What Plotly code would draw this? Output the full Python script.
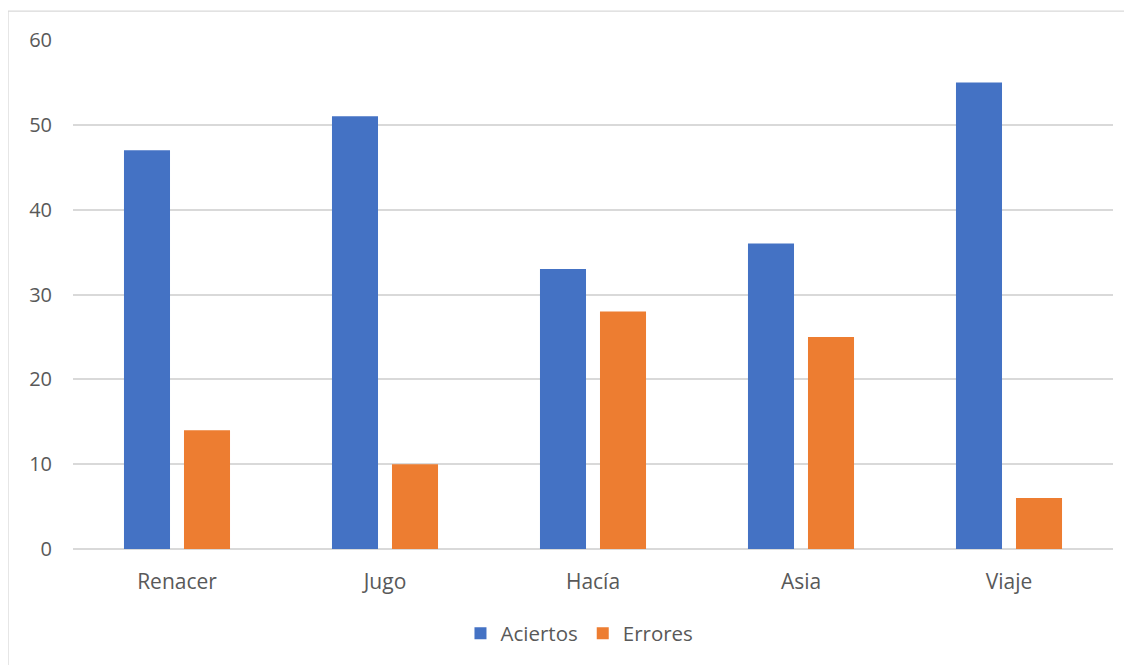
import plotly.graph_objects as go

categories = ["Renacer", "Jugo", "Hacía", "Asia", "Viaje"]
aciertos = [47, 51, 33, 36, 55]
errores = [14, 10, 28, 25, 6]
y_ticks = [0, 10, 20, 30, 40, 50, 60]

FONT = "Open Sans"
TXT = "#595959"

fig = go.Figure()
fig.add_trace(go.Bar(name="Aciertos", x=categories, y=aciertos, marker=dict(color="#4472C4", line=dict(width=0))))
fig.add_trace(go.Bar(name="Errores", x=categories, y=errores, marker=dict(color="#ED7D31", line=dict(width=0))))

fig.update_layout(
    width=1132, height=665,
    margin=dict(l=65, r=27, t=32, b=123.5),
    paper_bgcolor="white", plot_bgcolor="white",
    barmode="group", bargap=0.423, bargroupgap=0.233,
    font=dict(family=FONT, size=21, color=TXT),
    showlegend=True,
    legend=dict(orientation="h", x=0.487, xanchor="center", y=-0.166, yanchor="middle",
                font=dict(family=FONT, size=20.5, color=TXT), itemwidth=30, traceorder="normal"),
    xaxis=dict(showgrid=False, showline=False, ticks="", zeroline=False,
               tickfont=dict(family=FONT, size=21, color=TXT), ticklabelstandoff=18),
    yaxis=dict(range=[0, 60], tickvals=y_ticks, showgrid=True, gridcolor="#D9D9D9", gridwidth=1.5,
               zeroline=True, zerolinecolor="#D9D9D9", zerolinewidth=1.5, showline=False, ticks="",
               tickfont=dict(family=FONT, size=20, color=TXT), ticklabelstandoff=20),
    shapes=[dict(type="rect", xref="paper", yref="paper", x0=-0.0625, x1=1.03, y0=-0.26, y1=1.0569,
                 line=dict(color="#D9D9D9", width=1.3), fillcolor="rgba(0,0,0,0)", layer="below")],
    hovermode=False,
)

fig.write_html("out.html")
